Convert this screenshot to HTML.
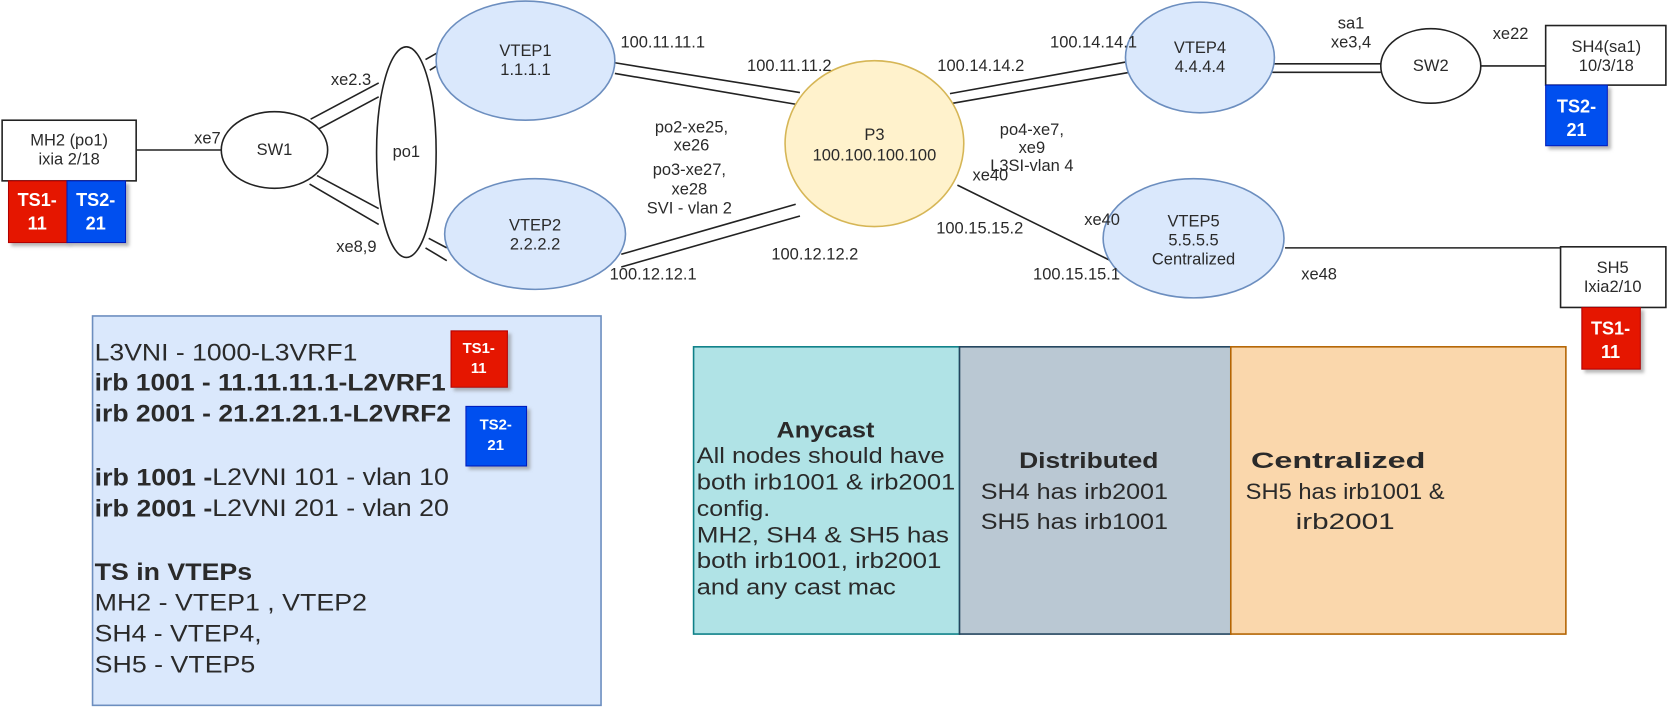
<!DOCTYPE html>
<html><head><meta charset="utf-8"><style>
html,body{margin:0;padding:0;background:#fff;}
svg{display:block;}
text{font-family:"Liberation Sans",Arial,sans-serif;fill:#2a2a2a;}
</style></head><body>
<svg width="1668" height="708" viewBox="0 0 1568 665.5" preserveAspectRatio="none" xmlns="http://www.w3.org/2000/svg">
<defs><filter id="sh" x="-10%" y="-10%" width="130%" height="130%"><feDropShadow dx="3" dy="3" stdDeviation="1.5" flood-color="#888" flood-opacity="0.6"/></filter></defs>
<g stroke="#222" stroke-width="1.5" fill="none">
<line x1="128" y1="141" x2="210" y2="141"/>
<line x1="292" y1="112" x2="356" y2="78"/><line x1="300" y1="121" x2="356" y2="91"/>
<line x1="298" y1="165" x2="356" y2="196"/><line x1="291" y1="173" x2="356" y2="211"/>
<line x1="400" y1="56" x2="414" y2="48"/><line x1="404" y1="66" x2="412" y2="61"/>
<line x1="403" y1="224" x2="420" y2="233"/><line x1="400" y1="233" x2="420" y2="245"/>
<line x1="578" y1="59" x2="752" y2="87"/><line x1="578" y1="69" x2="748" y2="98"/>
<line x1="584" y1="239" x2="748" y2="192"/><line x1="584" y1="251" x2="752" y2="203"/>
<line x1="893" y1="88" x2="1060" y2="58"/><line x1="896" y1="97" x2="1062" y2="68"/>
<line x1="1196" y1="60" x2="1298" y2="60"/><line x1="1196" y1="68" x2="1298" y2="68"/>
<line x1="1392" y1="62" x2="1453" y2="62"/>
<line x1="900" y1="174" x2="1044" y2="245"/>
<line x1="1208" y1="233" x2="1467" y2="233"/>
</g>
<rect x="2" y="113" width="126" height="57" fill="#fff" stroke="#222" stroke-width="1.5"/>
<rect x="8" y="170" width="55" height="58" fill="#e51400" stroke="#b20000" filter="url(#sh)"/>
<rect x="63" y="170" width="55" height="58" fill="#0050ef" stroke="#001dbc" filter="url(#sh)"/>
<ellipse cx="258" cy="141" rx="50" ry="36" fill="#fff" stroke="#222" stroke-width="1.5"/>
<ellipse cx="382" cy="143" rx="28" ry="99" fill="#fff" stroke="#222" stroke-width="1.5"/>
<ellipse cx="494" cy="57" rx="84" ry="56" fill="#dae8fc" stroke="#6c8ebf" stroke-width="1.5"/>
<ellipse cx="503" cy="220" rx="85" ry="52" fill="#dae8fc" stroke="#6c8ebf" stroke-width="1.5"/>
<ellipse cx="822" cy="135" rx="84" ry="78" fill="#fff2cc" stroke="#d6b656" stroke-width="1.5"/>
<ellipse cx="1128" cy="54" rx="70" ry="52" fill="#dae8fc" stroke="#6c8ebf" stroke-width="1.5"/>
<ellipse cx="1345" cy="62" rx="47" ry="35" fill="#fff" stroke="#222" stroke-width="1.5"/>
<rect x="1453" y="24" width="113" height="56" fill="#fff" stroke="#222" stroke-width="1.5"/>
<rect x="1453" y="80" width="58" height="57" fill="#0050ef" stroke="#001dbc" filter="url(#sh)"/>
<ellipse cx="1122" cy="224" rx="85" ry="56" fill="#dae8fc" stroke="#6c8ebf" stroke-width="1.5"/>
<rect x="1467" y="232" width="99" height="57" fill="#fff" stroke="#222" stroke-width="1.5"/>
<rect x="1487" y="289" width="55" height="58" fill="#e51400" stroke="#b20000" filter="url(#sh)"/>
<rect x="87" y="297" width="478" height="366" fill="#dae8fc" stroke="#6c8ebf" stroke-width="1.5"/>
<rect x="424" y="311" width="53" height="53" fill="#e51400" stroke="#b20000" filter="url(#sh)"/>
<rect x="438" y="382" width="57" height="56" fill="#0050ef" stroke="#001dbc" filter="url(#sh)"/>
<rect x="652" y="326" width="250" height="270" fill="#b0e3e6" stroke="#0e8088" stroke-width="1.5"/>
<rect x="902" y="326" width="255" height="270" fill="#bac8d3" stroke="#23445d" stroke-width="1.5"/>
<rect x="1157" y="326" width="315" height="270" fill="#fad7ac" stroke="#b46504" stroke-width="1.5"/>

<g font-size="15.5" text-anchor="middle" dominant-baseline="central">
<text x="65" y="132">MH2 (po1)</text><text x="65" y="150">ixia 2/18</text>
<g font-weight="bold" font-size="17">
<text x="35" y="188" style="fill:#fff">TS1-</text><text x="35" y="210" style="fill:#fff">11</text>
<text x="90" y="188" style="fill:#fff">TS2-</text><text x="90" y="210" style="fill:#fff">21</text>
<text x="1482" y="100" style="fill:#fff">TS2-</text><text x="1482" y="122" style="fill:#fff">21</text>
<text x="1514" y="309" style="fill:#fff">TS1-</text><text x="1514" y="331" style="fill:#fff">11</text>
<text x="450" y="328" font-size="14" style="fill:#fff">TS1-</text><text x="450" y="347" font-size="14" style="fill:#fff">11</text>
<text x="466" y="400" font-size="14" style="fill:#fff">TS2-</text><text x="466" y="419" font-size="14" style="fill:#fff">21</text></g>
<text x="195" y="130">xe7</text>
<text x="258" y="141">SW1</text>
<text x="382" y="143">po1</text>
<text x="330" y="75">xe2.3</text>
<text x="335" y="232">xe8,9</text>
<text x="494" y="48">VTEP1</text><text x="494" y="66">1.1.1.1</text>
<text x="503" y="212">VTEP2</text><text x="503" y="230">2.2.2.2</text>
<text x="822" y="127">P3</text><text x="822" y="146">100.100.100.100</text>
<text x="1128" y="45">VTEP4</text><text x="1128" y="63">4.4.4.4</text>
<text x="1345" y="62">SW2</text>
<text x="1510" y="44">SH4(sa1)</text><text x="1510" y="62">10/3/18</text>
<text x="1122" y="208">VTEP5</text><text x="1122" y="226">5.5.5.5</text><text x="1122" y="244">Centralized</text>
<text x="1516" y="252">SH5</text><text x="1516" y="270">Ixia2/10</text>
<text x="623" y="40">100.11.11.1</text>
<text x="742" y="62">100.11.11.2</text>
<text x="650" y="120">po2-xe25,</text><text x="650" y="137">xe26</text>
<text x="648" y="160">po3-xe27,</text><text x="648" y="178">xe28</text><text x="648" y="196">SVI - vlan 2</text>
<text x="614" y="258">100.12.12.1</text>
<text x="766" y="239">100.12.12.2</text>
<text x="922" y="62">100.14.14.2</text>
<text x="1028" y="40">100.14.14.1</text>
<text x="970" y="122">po4-xe7,</text><text x="970" y="139">xe9</text><text x="970" y="156">L3SI-vlan 4</text>
<text x="931" y="165">xe40</text>
<text x="1036" y="207">xe40</text>
<text x="921" y="215">100.15.15.2</text>
<text x="1012" y="258">100.15.15.1</text>
<text x="1240" y="258">xe48</text>
<text x="1270" y="22">sa1</text><text x="1270" y="40">xe3,4</text>
<text x="1420" y="32">xe22</text>
</g>

<g font-size="23" dominant-baseline="central">
<text x="89" y="332" textLength="247" lengthAdjust="spacingAndGlyphs">L3VNI - 1000-L3VRF1</text>
<text x="89" y="360" font-weight="bold" textLength="330" lengthAdjust="spacingAndGlyphs">irb 1001 - 11.11.11.1-L2VRF1</text>
<text x="89" y="389" font-weight="bold" textLength="335" lengthAdjust="spacingAndGlyphs">irb 2001 - 21.21.21.1-L2VRF2</text>
<text x="89" y="449" textLength="333" lengthAdjust="spacingAndGlyphs"><tspan font-weight="bold">irb 1001 -</tspan>L2VNI 101 - vlan 10</text>
<text x="89" y="478" textLength="333" lengthAdjust="spacingAndGlyphs"><tspan font-weight="bold">irb 2001 -</tspan>L2VNI 201 - vlan 20</text>
<text x="89" y="538" font-weight="bold" textLength="148" lengthAdjust="spacingAndGlyphs">TS in VTEPs</text>
<text x="89" y="567" textLength="256" lengthAdjust="spacingAndGlyphs">MH2 - VTEP1 , VTEP2</text>
<text x="89" y="596" textLength="157" lengthAdjust="spacingAndGlyphs">SH4 - VTEP4,</text>
<text x="89" y="625" textLength="151" lengthAdjust="spacingAndGlyphs">SH5 - VTEP5</text>
</g>

<g font-size="21" dominant-baseline="central">
<text x="730" y="404" font-weight="bold" textLength="92" lengthAdjust="spacingAndGlyphs">Anycast</text>
<text x="655" y="428" textLength="233" lengthAdjust="spacingAndGlyphs">All nodes should have</text>
<text x="655" y="453" textLength="243" lengthAdjust="spacingAndGlyphs">both irb1001 &amp; irb2001</text>
<text x="655" y="478" textLength="69" lengthAdjust="spacingAndGlyphs">config.</text>
<text x="655" y="503" textLength="237" lengthAdjust="spacingAndGlyphs">MH2, SH4  &amp; SH5 has</text>
<text x="655" y="527" textLength="230" lengthAdjust="spacingAndGlyphs">both irb1001,  irb2001</text>
<text x="655" y="552" textLength="187" lengthAdjust="spacingAndGlyphs">and any cast mac</text>
<text x="958" y="433" font-weight="bold" textLength="131" lengthAdjust="spacingAndGlyphs">Distributed</text>
<text x="922" y="462" textLength="176" lengthAdjust="spacingAndGlyphs">SH4 has irb2001</text>
<text x="922" y="490" textLength="176" lengthAdjust="spacingAndGlyphs">SH5 has irb1001</text>
<text x="1176" y="433" font-weight="bold" textLength="164" lengthAdjust="spacingAndGlyphs">Centralized</text>
<text x="1171" y="462" textLength="187" lengthAdjust="spacingAndGlyphs">SH5 has irb1001 &amp;</text>
<text x="1218" y="490" textLength="93" lengthAdjust="spacingAndGlyphs">irb2001</text>
</g>
</svg>
</body></html>
